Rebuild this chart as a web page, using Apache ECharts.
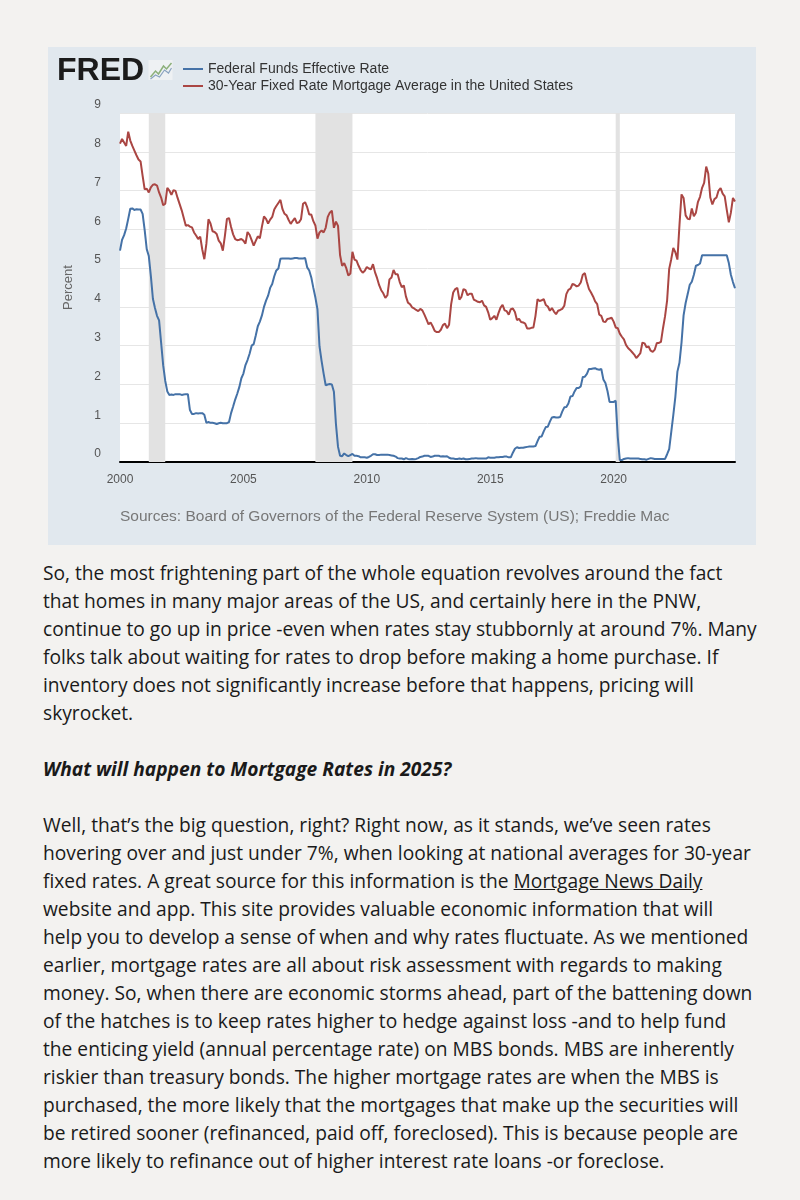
<!DOCTYPE html>
<html><head><meta charset="utf-8">
<script src="https://cdn.jsdelivr.net/npm/echarts@6/dist/echarts.min.js"></script>
<style>
html,body{margin:0;padding:0;background:#f3f2f0;}
body{width:800px;height:1200px;position:relative;overflow:hidden;}
#panel{position:absolute;left:48px;top:47px;width:708px;height:498px;}
#text{position:absolute;left:43px;top:559px;font-family:'Open Sans';font-size:19.2px;line-height:28px;color:#1a1a1a;white-space:nowrap;}
#text div{height:28px;}
.h{font-weight:700;font-style:italic;}
</style>
</head><body>
<div id="panel"></div>
<div id="text">
<div>So, the most frightening part of the whole equation revolves around the fact</div>
<div>that homes in many major areas of the US, and certainly here in the PNW,</div>
<div>continue to go up in price -even when rates stay stubbornly at around 7%. Many</div>
<div>folks talk about waiting for rates to drop before making a home purchase. If</div>
<div>inventory does not significantly increase before that happens, pricing will</div>
<div>skyrocket.</div>
<div></div>
<div class="h">What will happen to Mortgage Rates in 2025?</div>
<div></div>
<div>Well, that’s the big question, right? Right now, as it stands, we’ve seen rates</div>
<div>hovering over and just under 7%, when looking at national averages for 30-year</div>
<div>fixed rates. A great source for this information is the <u>Mortgage News Daily</u></div>
<div>website and app. This site provides valuable economic information that will</div>
<div>help you to develop a sense of when and why rates fluctuate. As we mentioned</div>
<div>earlier, mortgage rates are all about risk assessment with regards to making</div>
<div>money. So, when there are economic storms ahead, part of the battening down</div>
<div>of the hatches is to keep rates higher to hedge against loss -and to help fund</div>
<div>the enticing yield (annual percentage rate) on MBS bonds. MBS are inherently</div>
<div>riskier than treasury bonds. The higher mortgage rates are when the MBS is</div>
<div>purchased, the more likely that the mortgages that make up the securities will</div>
<div>be retired sooner (refinanced, paid off, foreclosed). This is because people are</div>
<div>more likely to refinance out of higher interest rate loans -or foreclose.</div>
</div>
<script>
// ---- data (monthly, Jan 2000 .. Dec 2024) ----
const startYear = 2000;
const fedFunds = [
 5.45,5.73,5.85,6.02,6.27,6.53,6.54,6.50,6.52,6.51,6.51,6.40,
 5.98,5.49,5.31,4.80,4.21,3.97,3.77,3.65,3.07,2.49,2.09,1.82,
 1.73,1.74,1.73,1.75,1.75,1.75,1.73,1.74,1.75,1.75,1.34,1.24,
 1.24,1.26,1.25,1.26,1.26,1.22,1.01,1.03,1.01,1.01,1.00,0.98,
 1.00,1.01,1.00,1.00,1.00,1.03,1.26,1.43,1.61,1.76,1.93,2.16,
 2.28,2.50,2.63,2.79,3.00,3.04,3.26,3.50,3.62,3.78,4.00,4.16,
 4.29,4.49,4.59,4.79,4.94,4.99,5.24,5.25,5.25,5.25,5.25,5.24,
 5.25,5.26,5.26,5.25,5.25,5.25,5.26,5.02,4.94,4.76,4.49,4.24,
 3.94,2.98,2.61,2.28,1.98,2.00,2.01,2.00,1.81,0.97,0.39,0.16,
 0.15,0.22,0.18,0.15,0.18,0.21,0.16,0.16,0.15,0.12,0.12,0.12,
 0.11,0.13,0.16,0.20,0.20,0.18,0.18,0.19,0.19,0.19,0.19,0.18,
 0.17,0.16,0.14,0.10,0.09,0.09,0.07,0.10,0.08,0.07,0.08,0.07,
 0.08,0.10,0.13,0.14,0.16,0.16,0.16,0.13,0.14,0.16,0.16,0.16,
 0.14,0.15,0.14,0.15,0.11,0.09,0.09,0.08,0.08,0.09,0.08,0.09,
 0.07,0.07,0.08,0.09,0.09,0.10,0.09,0.09,0.09,0.09,0.09,0.12,
 0.11,0.11,0.11,0.12,0.12,0.13,0.13,0.14,0.14,0.12,0.12,0.24,
 0.34,0.38,0.36,0.37,0.37,0.38,0.39,0.40,0.40,0.40,0.41,0.54,
 0.65,0.66,0.79,0.90,0.91,1.04,1.15,1.16,1.15,1.15,1.16,1.30,
 1.41,1.42,1.51,1.69,1.70,1.82,1.91,1.91,1.95,2.19,2.20,2.27,
 2.40,2.40,2.41,2.42,2.39,2.38,2.40,2.13,2.04,1.83,1.55,1.55,
 1.55,1.58,0.65,0.05,0.05,0.08,0.09,0.10,0.09,0.09,0.09,0.09,
 0.09,0.08,0.07,0.07,0.06,0.08,0.10,0.09,0.08,0.08,0.08,0.08,
 0.08,0.08,0.20,0.33,0.77,1.21,1.68,2.33,2.56,3.08,3.78,4.10,
 4.33,4.57,4.65,4.83,5.06,5.08,5.12,5.33,5.33,5.33,5.33,5.33,
 5.33,5.33,5.33,5.33,5.33,5.33,5.33,5.33,5.13,4.83,4.64,4.48
];
const mortgage30 = [
 8.21,8.33,8.24,8.15,8.52,8.29,8.15,8.03,7.91,7.80,7.75,7.38,
 7.03,7.05,6.95,7.08,7.15,7.16,7.13,6.95,6.82,6.62,6.66,7.07,
 7.00,6.89,7.01,6.99,6.81,6.65,6.49,6.29,6.09,6.11,6.07,6.05,
 5.92,5.84,5.75,5.81,5.48,5.23,5.63,6.26,6.15,5.95,5.93,5.88,
 5.71,5.64,5.45,5.83,6.27,6.29,6.06,5.87,5.75,5.72,5.73,5.75,
 5.71,5.63,5.93,5.86,5.72,5.58,5.70,5.82,5.77,6.07,6.33,6.27,
 6.15,6.25,6.32,6.51,6.60,6.68,6.76,6.52,6.40,6.36,6.24,6.14,
 6.22,6.29,6.16,6.18,6.26,6.66,6.70,6.57,6.38,6.38,6.21,6.10,
 5.76,5.92,5.97,5.92,6.04,6.32,6.43,6.48,6.04,6.20,6.09,5.33,
 5.06,5.13,5.00,4.81,4.86,5.42,5.22,5.19,5.06,4.95,4.88,4.93,
 5.03,4.99,4.97,5.10,4.89,4.74,4.56,4.43,4.35,4.23,4.30,4.71,
 4.76,4.95,4.84,4.84,4.64,4.51,4.55,4.27,4.11,4.07,3.99,3.96,
 3.92,3.89,3.95,3.91,3.80,3.68,3.55,3.60,3.50,3.38,3.35,3.35,
 3.41,3.53,3.57,3.45,3.54,4.07,4.37,4.46,4.49,4.19,4.26,4.46,
 4.43,4.30,4.34,4.34,4.19,4.16,4.13,4.12,4.16,4.04,4.00,3.86,
 3.67,3.71,3.77,3.67,3.84,3.98,4.05,3.91,3.89,3.80,3.94,3.96,
 3.87,3.66,3.69,3.61,3.60,3.57,3.44,3.44,3.46,3.47,3.77,4.20,
 4.15,4.17,4.20,4.05,4.01,3.90,3.97,3.88,3.81,3.90,3.92,3.95,
 4.03,4.33,4.44,4.47,4.59,4.57,4.53,4.55,4.63,4.83,4.87,4.64,
 4.46,4.37,4.27,4.14,4.07,3.80,3.77,3.62,3.61,3.69,3.70,3.72,
 3.62,3.47,3.45,3.31,3.23,3.16,3.02,2.94,2.89,2.83,2.77,2.68,
 2.74,2.81,3.08,3.06,2.96,2.98,2.87,2.84,2.90,3.07,3.07,3.10,
 3.45,3.76,4.17,4.98,5.23,5.52,5.41,5.22,6.11,6.90,6.81,6.36,
 6.27,6.26,6.54,6.34,6.43,6.71,6.84,7.07,7.20,7.62,7.44,6.82,
 6.64,6.78,6.82,7.00,7.06,6.92,6.85,6.50,6.18,6.43,6.81,6.72
];
const recessions = [[2001.167, 2001.833], [2007.917, 2009.417], [2020.083, 2020.25]];
const xTickYears = [2000, 2005, 2010, 2015, 2020];
const yTicks = [0,1,2,3,4,5,6,7,8,9];
const seriesNames = ['Federal Funds Effective Rate', '30-Year Fixed Rate Mortgage Average in the United States'];
const sourceNote = 'Sources: Board of Governors of the Federal Reserve System (US); Freddie Mac';
const yAxisTitle = 'Percent';

const toPairs = arr => arr.map((v, i) => [startYear + i / 12, v]);
const lastX = startYear + (fedFunds.length - 1) / 12;

const chart = echarts.init(document.getElementById('panel'), null, {renderer: 'canvas'});
const FONT = '"Liberation Sans", Arial, sans-serif';
chart.setOption({
  animation: false,
  backgroundColor: '#e1e8ee',
  textStyle: {fontFamily: FONT},
  grid: {left: 72, right: 21, top: 66, bottom: 83, show: true, backgroundColor: '#ffffff', borderWidth: 0},
  legend: {
    orient: 'vertical', left: 130, top: 10, itemWidth: 20, itemHeight: 2, itemGap: 3, icon: 'rect',
    data: seriesNames,
    textStyle: {color: '#333', fontSize: 14, fontFamily: FONT}
  },
  xAxis: {
    type: 'value', min: startYear, max: lastX, interval: 5,
    axisLine: {show: true, lineStyle: {color: '#000', width: 2}},
    axisTick: {show: false}, splitLine: {show: false},
    axisLabel: {color: '#555', fontSize: 12, margin: 12,
      formatter: v => { const r = Math.round(v); return (Math.abs(v - r) < 1e-6 && xTickYears.includes(r)) ? String(r) : ''; }}
  },
  yAxis: {
    type: 'value', min: yTicks[0], max: yTicks[yTicks.length - 1], interval: 1,
    name: yAxisTitle, nameLocation: 'middle', nameGap: 45,
    nameTextStyle: {color: '#666', fontSize: 13, fontFamily: FONT},
    axisLine: {show: false}, axisTick: {show: false},
    axisLabel: {color: '#555', fontSize: 12, margin: 19, verticalAlign: 'bottom', padding: [0, 0, 2, 0]},
    splitLine: {lineStyle: {color: '#e6e6e6', width: 1}}
  },
  graphic: [
    {type: 'text', left: 9, top: 8, style: {text: 'FRED', font: 'bold 32px "Liberation Sans", Arial', fill: '#1b1b1b'}},
    {type: 'group', left: 100, top: 13, children: [
      {type: 'rect', shape: {x: 0, y: 0, width: 24, height: 20}, style: {fill: '#eef1f3'}},
      {type: 'polyline', shape: {points: [[2,17],[7,11],[10,14],[15,6],[18,9],[23,3]]}, style: {stroke: '#8cb07a', lineWidth: 1.5, fill: null}},
      {type: 'polyline', shape: {points: [[2,19],[7,15],[11,17],[16,10],[20,13],[23,8]]}, style: {stroke: '#8aa3c0', lineWidth: 1.2, fill: null}}
    ]},
    {type: 'text', left: 72, top: 462, style: {text: sourceNote, font: '15.5px "Liberation Sans", Arial', fill: '#777'}}
  ],
  series: [
    {type: 'line', name: '_rec', data: [], z: 1, silent: true,
     markArea: {silent: true, itemStyle: {color: '#e2e2e2'}, data: recessions.map(r => [{xAxis: r[0]}, {xAxis: r[1]}])}},
    {type: 'line', name: seriesNames[0], data: toPairs(fedFunds), showSymbol: false, z: 3,
     lineStyle: {color: '#4572a7', width: 2}, itemStyle: {color: '#4572a7'}},
    {type: 'line', name: seriesNames[1], data: toPairs(mortgage30), showSymbol: false, z: 3,
     lineStyle: {color: '#aa4643', width: 2}, itemStyle: {color: '#aa4643'}}
  ]
});
</script>
</body></html>
